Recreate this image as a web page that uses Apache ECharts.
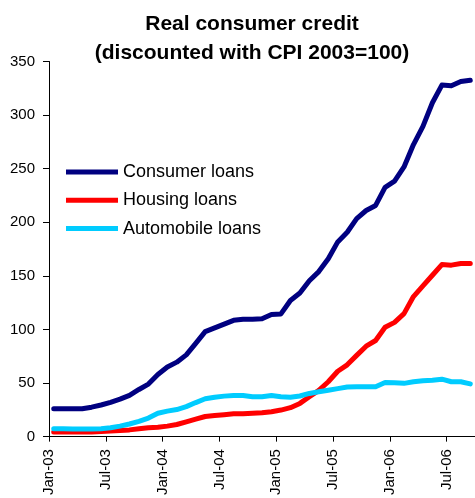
<!DOCTYPE html>
<html><head><meta charset="utf-8">
<script src="https://cdn.jsdelivr.net/npm/echarts@6/dist/echarts.min.js"></script>
<style>html,body{margin:0;padding:0;background:#fff}#c{width:475px;height:498px}</style>
</head><body><div id="c"></div>
<script>
const months = ['Jan-03','Feb-03','Mar-03','Apr-03','May-03','Jun-03','Jul-03','Aug-03','Sep-03','Oct-03','Nov-03','Dec-03',
'Jan-04','Feb-04','Mar-04','Apr-04','May-04','Jun-04','Jul-04','Aug-04','Sep-04','Oct-04','Nov-04','Dec-04',
'Jan-05','Feb-05','Mar-05','Apr-05','May-05','Jun-05','Jul-05','Aug-05','Sep-05','Oct-05','Nov-05','Dec-05',
'Jan-06','Feb-06','Mar-06','Apr-06','May-06','Jun-06','Jul-06','Aug-06','Sep-06'];
const tickLabels = ['Jan-03','Jul-03','Jan-04','Jul-04','Jan-05','Jul-05','Jan-06','Jul-06'];
const yTicks = [0,50,100,150,200,250,300,350];
const consumerLoans = [26,26,26,26,27.5,29.5,32,35,38.5,44,49,58,65,69.5,76.3,87,98,101.5,105,108.5,109.5,109.5,110,114,114.5,127,134,145.5,154,166,181.7,190.7,203.4,211,215.7,232.6,238.3,251.6,272.5,289.5,311.5,328,327.3,331.3,332.5];
const housingLoans = [4.3,4.3,4.3,4.3,4.3,4.8,5.3,5.8,6.3,7.3,8.3,8.8,9.8,11.3,13.8,16.3,18.8,19.8,20.5,21.3,21.3,21.8,22.3,23.3,24.8,27,31,37.2,43.2,51.2,61,67,75.8,84.4,89.7,102,106.6,114.8,130.7,140.7,150.6,160.5,160,161.5,161.5];
const autoLoans = [7.3,7.3,7.1,7.1,7.1,7.3,8.3,9.8,11.8,14.3,17.3,21.8,23.8,25.3,28,31.8,35.3,36.8,37.8,38.3,38.3,37.3,37.3,38.3,37.3,36.8,37.9,40.3,41.8,43.3,44.8,46.3,46.6,46.6,46.6,50.5,50.2,49.7,51.2,52.2,52.7,53.6,51.2,51.2,49.2];
const seriesNames = ['Consumer loans','Housing loans','Automobile loans'];
const colors = ['#000080','#FF0000','#00CCFF'];

function pts(arr){ return arr.map((v,i)=>[i+0.5, v]); }
const font = 'Arial, "Liberation Sans", sans-serif';
const chart = echarts.init(document.getElementById('c'));
chart.setOption({
  animation:false,
  backgroundColor:'#fff',
  title:{text:'Real consumer credit\n(discounted with CPI 2003=100)', left:252, top:10, padding:0, textAlign:'center',
    textStyle:{fontFamily:font, fontWeight:'bold', fontSize:21, lineHeight:29, color:'#000'}},
  legend:{orient:'vertical', left:66, top:162, padding:0, itemWidth:52, itemHeight:5, itemGap:8.3, icon:'rect',
    textStyle:{fontFamily:font, fontSize:18, lineHeight:20, color:'#000'}, data:seriesNames},
  grid:{left:49, right:0, top:61.5, bottom:59.5, containLabel:false},
  xAxis:{type:'value', min:0, max:months.length, interval:6, splitLine:{show:false},
    axisLine:{lineStyle:{color:'#000', width:1}}, axisTick:{length:5, lineStyle:{color:'#000'}},
    axisLabel:{rotate:90, margin:12.5, fontFamily:font, fontSize:15, color:'#000',
      formatter:v=> (v%6===0 && v/6 < tickLabels.length) ? tickLabels[v/6] : ''}},
  yAxis:{type:'value', min:yTicks[0], max:yTicks[yTicks.length-1], interval:50, splitLine:{show:false},
    axisLine:{show:true, lineStyle:{color:'#000', width:1}}, axisTick:{show:true, length:6, lineStyle:{color:'#000'}},
    axisLabel:{margin:14, fontFamily:font, fontSize:15, color:'#000'}},
  series:[consumerLoans, housingLoans, autoLoans].map((d,k)=>({
    name:seriesNames[k], type:'line', data:pts(d), showSymbol:false, symbol:'none',
    lineStyle:{color:colors[k], width:5, join:'round', cap:'round'}, itemStyle:{color:colors[k]}
  }))
});
</script></body></html>
